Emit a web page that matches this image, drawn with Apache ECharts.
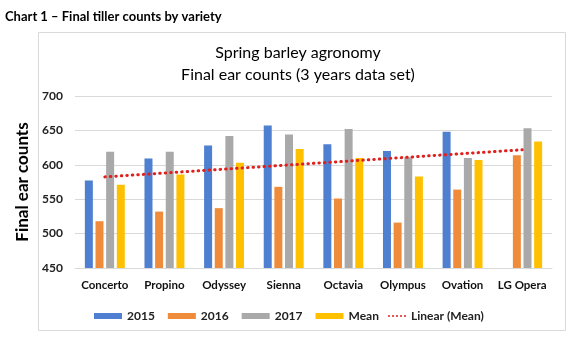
<!DOCTYPE html>
<html>
<head>
<meta charset="utf-8">
<script src="https://cdn.jsdelivr.net/npm/echarts@6/dist/echarts.min.js"></script>
<style>
  html, body { margin: 0; padding: 0; background: #fff; }
  #chart { width: 575px; height: 351px; }
</style>
</head>
<body>
<div id="chart"></div>
<script>
const varieties = ['Concerto', 'Propino', 'Odyssey', 'Sienna', 'Octavia', 'Olympus', 'Ovation', 'LG Opera'];
const y2015 = [577, 609, 628, 657, 630, 620, 648, null];
const y2016 = [518, 532, 537, 568, 551, 516, 564, 614];
const y2017 = [619, 619, 642, 644, 652, 611, 610, 653];
const yMean = [571, 586, 603, 623, 610, 583, 607, 634];
const yTicks = [450, 500, 550, 600, 650, 700];

// least squares trend of the mean, like Excel's "Linear (Mean)"
function linearTrend(vals) {
  const n = vals.length;
  let sx = 0, sy = 0, sxy = 0, sxx = 0;
  vals.forEach((v, i) => {
    const x = i + 1;
    sx += x; sy += v; sxy += x * v; sxx += x * x;
  });
  const slope = (n * sxy - sx * sy) / (n * sxx - sx * sx);
  const icpt = (sy - slope * sx) / n;
  return vals.map((v, i) => +(icpt + slope * (i + 1)).toFixed(2));
}
const trend = linearTrend(yMean);

const font = 'Lato, "Open Sans", sans-serif';
// five little dots for the trend legend entry
let dots = 'path://';
for (let i = 0; i < 5; i++) dots += 'M' + (i * 4) + ',1a1,1 0 1,0 2,0a1,1 0 1,0 -2,0z';

const chart = echarts.init(document.getElementById('chart'));

const bar = (name, data, color) => ({
  name,
  type: 'bar',
  data,
  barWidth: 8,
  barGap: '33%',
  itemStyle: { color },
});

chart.setOption({
  animation: false,
  textStyle: { fontFamily: font },
  graphic: [
    {
      type: 'text',
      left: 5,
      top: 10,
      style: { text: 'Chart 1 – Final tiller counts by variety', font: 'bold 13px ' + font, fill: '#000' },
    },
    {
      type: 'rect',
      shape: { x: 38.5, y: 32.5, width: 527, height: 298 },
      style: { fill: 'none', stroke: '#d9d9d9', lineWidth: 1 },
      z: -1,
    },
  ],
  title: {
    text: 'Spring barley agronomy\nFinal ear counts (3 years data set)',
    left: 293,
    textAlign: 'center',
    top: 37,
    textStyle: { fontFamily: font, fontSize: 16, fontWeight: 'normal', color: '#000', lineHeight: 22 },
  },
  legend: [
    {
      data: ['2015', '2016', '2017', 'Mean'],
      left: 89,
      top: 305,
      icon: 'rect',
      itemWidth: 28,
      itemHeight: 6,
      itemGap: 13,
      textStyle: { fontFamily: font, fontSize: 12, fontWeight: 'bold', color: '#222' },
    },
    {
      data: [{ name: 'Linear (Mean)', icon: dots, itemStyle: { color: '#e0201c' } }],
      left: 383,
      top: 305,
      itemWidth: 18,
      itemHeight: 3,
      textStyle: { fontFamily: font, fontSize: 12, fontWeight: 'bold', color: '#222' },
    },
  ],
  grid: { left: 75, right: 23, top: 96, bottom: 83 },
  xAxis: {
    type: 'category',
    data: varieties,
    axisTick: { show: false },
    axisLine: { lineStyle: { color: '#d9d9d9' } },
    axisLabel: { interval: 0, margin: 11, fontFamily: font, fontSize: 11.5, fontWeight: 'bold', color: '#111' },
  },
  yAxis: {
    type: 'value',
    min: yTicks[0],
    max: yTicks[yTicks.length - 1],
    interval: 50,
    name: 'Final ear counts',
    nameLocation: 'middle',
    nameGap: 43,
    nameTextStyle: { fontFamily: font, fontSize: 17, fontWeight: 'bold', color: '#000' },
    axisLine: { show: false },
    axisTick: { show: false },
    axisLabel: { margin: 12, fontFamily: font, fontSize: 12, fontWeight: 'bold', color: '#222' },
    splitLine: { lineStyle: { color: '#d9d9d9' } },
  },
  series: [
    bar('2015', y2015, '#4f7fd0'),
    bar('2016', y2016, '#ef8c3c'),
    bar('2017', y2017, '#a9a9a9'),
    bar('Mean', yMean, '#ffc000'),
    {
      name: 'Linear (Mean)',
      type: 'line',
      data: trend,
      symbol: 'none',
      z: 5,
      itemStyle: { color: '#e0201c' },
      lineStyle: { color: '#e0201c', width: 3, type: [0.5, 5], cap: 'round' },
    },
  ],
});
</script>
</body>
</html>
